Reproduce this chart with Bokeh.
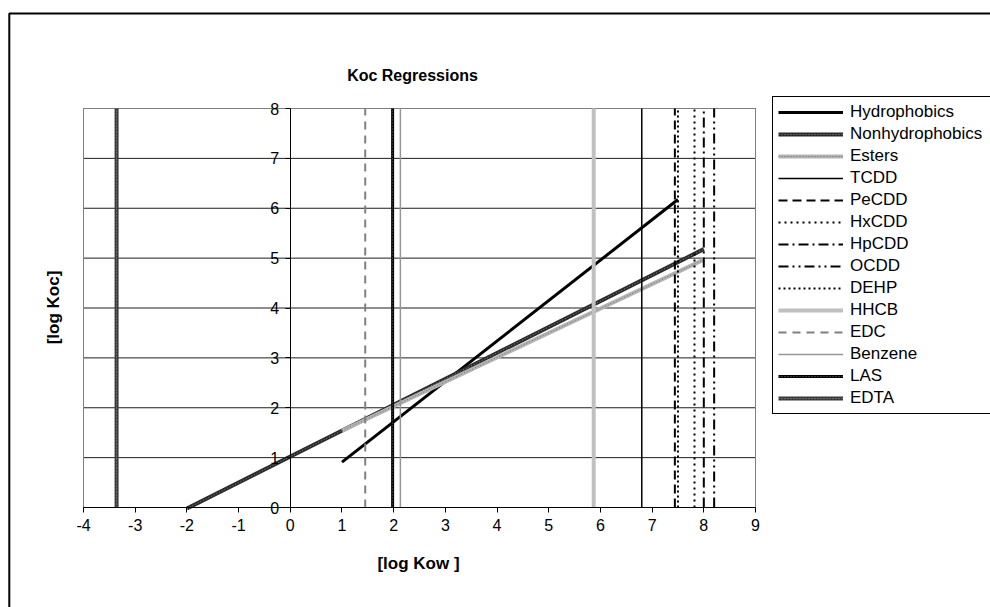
from bokeh.plotting import figure
from bokeh.models import Legend, LegendItem, Label, BoxAnnotation, FixedTicker, Range1d
from bokeh.embed import file_html
from bokeh.resources import INLINE
import math

FONT = "Liberation Sans"

# Koc regression lines: log Kow (x) against log Koc (y)
hydrophobics_kow = [1.0, 7.5]
hydrophobics_koc = [0.91, 6.175]
nonhydrophobics_kow = [-2.0, 8.0]
nonhydrophobics_koc = [-0.02, 5.18]
esters_kow = [1.0, 8.0]
esters_koc = [1.54, 4.97]

# Individual compounds, drawn as vertical markers at their log Kow
compounds = ["TCDD", "PeCDD", "HxCDD", "HpCDD", "OCDD", "DEHP",
             "HHCB", "EDC", "Benzene", "LAS", "EDTA"]
compound_log_kow = [6.8, 7.44, 7.82, 8.0, 8.2, 7.5, 5.87, 1.45, 2.13, 1.98, -3.36]
marker_koc = [0, 8]

x_ticks = list(range(-4, 10))
y_ticks = list(range(0, 9))

# line layers per series: (color, width, dash)
series_style = {
    "Hydrophobics": [("#000000", 3, "solid")],
    "Nonhydrophobics": [("#2a2a2a", 4, "solid"), ("#8a8a8a", 1, "1 2")],
    "Esters": [("#b4b4b4", 4, "solid"), ("#6e6e6e", 1, "1 2")],
    "TCDD": [("#000000", 1.5, "solid")],
    "PeCDD": [("#000000", 2, "9 5")],
    "HxCDD": [("#000000", 2, "2 4")],
    "HpCDD": [("#000000", 2, "10 4 2 4")],
    "OCDD": [("#000000", 2, "10 4 2 4 2 4")],
    "DEHP": [("#000000", 2, "2 3")],
    "HHCB": [("#c0c0c0", 4, "solid")],
    "EDC": [("#808080", 2, "8 6")],
    "Benzene": [("#969696", 1.5, "solid")],
    "LAS": [("#000000", 3, "solid"), ("#6a6a6a", 1, "1 2")],
    "EDTA": [("#3a3a3a", 4, "solid"), ("#9a9a9a", 1, "1 2")],
}

W, H = 990, 607
# the frame spans the whole canvas; the plot area sits inside it
PLOT_L, PLOT_R, PLOT_T, PLOT_B = 83, 755, 108, 507
x_min, x_max = x_ticks[0], x_ticks[-1]
y_min, y_max = y_ticks[0], y_ticks[-1]
sx = (PLOT_R - PLOT_L) / (x_max - x_min)
sy = (PLOT_B - PLOT_T) / (y_max - y_min)
X0 = x_min - PLOT_L / sx
X1 = X0 + W / sx
Y1 = y_max + PLOT_T / sy
Y0 = Y1 - H / sy


def px_x(px):
    return X0 + px / sx


def px_y(py):
    return Y1 - py / sy


p = figure(width=W, height=H,
           x_range=Range1d(X0, X1), y_range=Range1d(Y0, Y1),
           output_backend="svg", toolbar_location=None,
           min_border=0)
p.title.visible = False
p.outline_line_color = None
p.background_fill_color = "white"
p.border_fill_color = "white"
p.xgrid.visible = False
p.ygrid.visible = False

# plot-area frame and horizontal gridlines
p.segment(x0=x_min, x1=x_max, y0=y_ticks, y1=y_ticks,
          line_color="#1e1e1e", line_width=1)
p.quad(left=x_min, right=x_max, bottom=y_min, top=y_max,
       fill_color=None, line_color="#808080", line_width=1)

# axes crossing at the origin
p.xaxis.ticker = FixedTicker(ticks=x_ticks)
p.yaxis.ticker = FixedTicker(ticks=y_ticks)
p.xaxis.major_label_overrides = {t: str(t) for t in x_ticks}
p.yaxis.major_label_overrides = {t: str(t) for t in y_ticks}
p.xaxis.fixed_location = 0
p.yaxis.fixed_location = 0
p.xaxis.bounds = (x_min, x_max)
p.yaxis.bounds = (y_min, y_max)
for ax in (p.xaxis, p.yaxis):
    ax.minor_tick_line_color = None
    ax.major_tick_out = 5
    ax.major_tick_in = 0
    ax.axis_line_color = "#000000"
    ax.major_tick_line_color = "#000000"
    ax.major_label_text_font = FONT
    ax.major_label_text_font_size = "16px"
    ax.major_label_text_color = "#000000"
    ax.major_label_standoff = 6

# data series
series_data = [
    ("Hydrophobics", hydrophobics_kow, hydrophobics_koc),
    ("Nonhydrophobics", nonhydrophobics_kow, nonhydrophobics_koc),
    ("Esters", esters_kow, esters_koc),
]
for name, kow in zip(compounds, compound_log_kow):
    series_data.append((name, [kow, kow], marker_koc))

legend_items = []
for name, xs, ys in series_data:
    rs = []
    for color, width, dash in series_style[name]:
        rs.append(p.line(xs, ys, line_color=color, line_width=width,
                         line_dash=dash, line_cap="butt"))
    legend_items.append(LegendItem(label=name, renderers=rs))

legend = Legend(items=legend_items, location=(772, H - 414), margin=0,
                padding=5, spacing=2, glyph_width=65, glyph_height=16,
                label_height=20, label_width=150, label_standoff=7,
                label_text_font=FONT, label_text_font_size="17px",
                label_text_color="#000000",
                border_line_color="#000000", border_line_width=1,
                border_line_alpha=1,
                background_fill_color="white", background_fill_alpha=1)
p.add_layout(legend)

# titles
p.add_layout(Label(x=px_x(412), y=px_y(75), text="Koc Regressions", text_font=FONT,
                   text_font_style="bold", text_font_size="16px",
                   text_color="#000000",
                   text_align="center", text_baseline="middle"))
p.add_layout(Label(x=px_x(418), y=px_y(563), text="[log Kow ]", text_font=FONT,
                   text_font_style="bold", text_font_size="17px",
                   text_color="#000000",
                   text_align="center", text_baseline="middle"))
p.add_layout(Label(x=px_x(53), y=px_y(307), text="[log Koc]", text_font=FONT,
                   text_font_style="bold", text_font_size="17px",
                   text_color="#000000",
                   text_align="center", text_baseline="middle",
                   angle=math.pi / 2))

# chart border
p.add_layout(BoxAnnotation(left=px_x(8.8), top=px_y(13), right=px_x(W + 40),
                           bottom=px_y(H + 40), fill_alpha=0,
                           line_color="black", line_alpha=1, line_width=2))

open("out.html", "w").write(file_html(p, INLINE))
